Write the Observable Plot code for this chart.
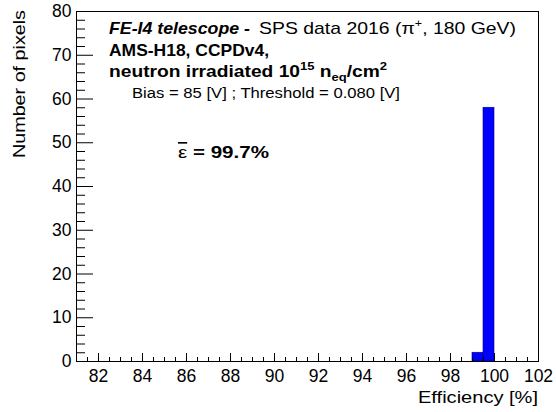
<!DOCTYPE html>
<html><head><meta charset="utf-8">
<script src="https://cdn.jsdelivr.net/npm/d3@7"></script>
<script src="https://cdn.jsdelivr.net/npm/@observablehq/plot@0.6"></script>
<style>
html,body{margin:0;padding:0;background:#fff;}
#chart{position:relative;width:556px;height:412px;}
</style></head><body><div id="chart"></div>
<script>
// Histogram data (efficiency bins, %)
const binLow = [99.0, 99.5];
const binHigh = [99.5, 100.0];
const counts = [2, 58];

// Axis ticks
const xTicks = [82, 84, 86, 88, 90, 92, 94, 96, 98, 100, 102];
const xMinorTicks = d3.range(81.5, 102.01, 0.5).filter(v => !xTicks.includes(v));
const yTicks = [0, 10, 20, 30, 40, 50, 60, 70, 80];
const yMinorTicks = d3.range(2, 80, 2).filter(v => v % 10 !== 0);

const W = 556, H = 412, mL = 76, mT = 11, mR = 18, mB = 51;
const innerW = W - mL - mR, innerH = H - mT - mB;
const font = "'Liberation Sans', Arial, Helvetica, sans-serif";
const bins = counts.map((c, i) => ({x1: binLow[i], x2: binHigh[i], y: c}));

const plot = Plot.plot({
  width: W, height: H,
  marginLeft: mL, marginTop: mT, marginRight: mR, marginBottom: mB,
  style: {fontFamily: font, fontSize: "17.5px", color: "black", background: "white", overflow: "visible"},
  x: {domain: [81, 102]},
  y: {domain: [0, 80]},
  marks: [
    Plot.rectY(bins, {x1: "x1", x2: "x2", y: "y", fill: "#0000ff", stroke: "#00007a", strokeWidth: 0.6}),
    Plot.ruleX(xTicks, {x: d => d, stroke: "black", insetTop: innerH - 8}),
    Plot.ruleX(xMinorTicks, {x: d => d, stroke: "black", insetTop: innerH - 4}),
    Plot.ruleY(yTicks, {y: d => d, stroke: "black", insetRight: innerW - 17}),
    Plot.ruleY(yMinorTicks, {y: d => d, stroke: "black", insetRight: innerW - 9}),
    Plot.frame({stroke: "black"}),
    Plot.axisX({ticks: xTicks, tickSize: 0, tickPadding: 8, label: null, fontSize: 17.5}),
    Plot.axisY({ticks: yTicks, tickSize: 0, tickPadding: 5, label: null, fontSize: 17.5})
  ]
});
document.getElementById("chart").appendChild(plot);

const svg = d3.select(plot);
const g = svg.append("g").attr("font-family", font).attr("fill", "black").attr("text-anchor", "start");
const fit = (sel, len) => sel.attr("textLength", len).attr("lengthAdjust", "spacingAndGlyphs");

// Axis titles
fit(g.append("text").attr("x", 538).attr("y", 403).attr("text-anchor", "end")
  .attr("font-size", 17).text("Efficiency [%]"), 120);
fit(g.append("text").attr("transform", "translate(25,10) rotate(-90)").attr("text-anchor", "end")
  .attr("font-size", 17).text("Number of pixels"), 148);

// Line 1
fit(g.append("text").attr("x", 109).attr("y", 34).attr("font-size", 17)
  .attr("font-weight", "bold").attr("font-style", "italic").text("FE-I4 telescope -"), 141);
const t1 = g.append("text").attr("x", 259).attr("y", 34).attr("font-size", 17);
t1.append("tspan").text("SPS data 2016 (π");
t1.append("tspan").attr("dy", -7).attr("font-size", 11).text("+");
t1.append("tspan").attr("dy", 7).text(", 180 GeV)");
fit(t1, 257);

// Line 2
fit(g.append("text").attr("x", 109).attr("y", 56).attr("font-size", 17).attr("font-weight", "bold")
  .text("AMS-H18, CCPDv4,"), 160);

// Line 3
const t3 = g.append("text").attr("x", 109).attr("y", 77).attr("font-size", 17).attr("font-weight", "bold");
t3.append("tspan").text("neutron irradiated 10");
t3.append("tspan").attr("dy", -7).attr("font-size", 11.5).text("15");
t3.append("tspan").attr("dy", 7).text(" n");
t3.append("tspan").attr("dy", 4).attr("font-size", 11.5).text("eq");
t3.append("tspan").attr("dy", -4).text("/cm");
t3.append("tspan").attr("dy", -7).attr("font-size", 11.5).text("2");
fit(t3, 278);

// Line 4
fit(g.append("text").attr("x", 132).attr("y", 98).attr("font-size", 14)
  .text("Bias = 85 [V] ; Threshold = 0.080 [V]"), 268);

// Mean efficiency
const te = g.append("text").attr("x", 178).attr("y", 158).attr("font-size", 16.5);
te.append("tspan").style("text-decoration", "overline").text("ε");
te.append("tspan").attr("font-weight", "bold").text(" = 99.7%");
fit(te, 91);
</script>
</body></html>
